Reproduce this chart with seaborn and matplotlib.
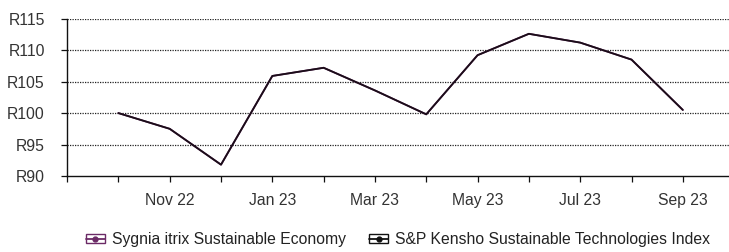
import matplotlib
matplotlib.use("Agg")
import matplotlib.pyplot as plt
from matplotlib.patches import Rectangle
from matplotlib.lines import Line2D
from matplotlib.legend_handler import HandlerTuple
import seaborn as sns
import pandas as pd

months = ["Oct 22", "Nov 22", "Dec 22", "Jan 23", "Feb 23", "Mar 23",
          "Apr 23", "May 23", "Jun 23", "Jul 23", "Aug 23", "Sep 23"]
sygnia = [100.0, 97.5, 91.8, 105.9, 107.2, 103.6, 99.8, 109.2, 112.6, 111.2, 108.5, 100.5]
kensho = [100.0, 97.5, 91.8, 105.9, 107.2, 103.6, 99.8, 109.2, 112.6, 111.2, 108.5, 100.5]
series_names = ["Sygnia itrix Sustainable Economy", "S&P Kensho Sustainable Technologies Index"]
tick_labels = ["Nov 22", "Jan 23", "Mar 23", "May 23", "Jul 23", "Sep 23"]
y_ticks = [90, 95, 100, 105, 110, 115]

sns.set_theme(style="white")
plt.rcParams["font.family"] = ["Liberation Sans", "DejaVu Sans"]

df = pd.DataFrame({
    "idx": list(range(len(months))) * 2,
    "value": sygnia + kensho,
    "series": [series_names[0]] * len(months) + [series_names[1]] * len(months),
})

colors = ["#6b2a66", "#1a0d18"]
FS = 11.3

fig = plt.figure(figsize=(7.29, 2.52), dpi=100)
ax = fig.add_axes([0.092, 0.3016, 0.908, 0.6242])

sns.lineplot(data=df, x="idx", y="value", hue="series", palette=colors,
             linewidth=1.3, ax=ax, legend=False)

ax.set_xlim(-1, 11.9)
ax.set_ylim(90, 115)
ax.set_yticks(y_ticks)
ax.set_yticklabels([f"R{v}" for v in y_ticks])
ax.set_xticks(list(range(-1, 12)))
lab = []
for i in range(-1, 12):
    m = months[i] if i >= 0 else ""
    lab.append(m if m in tick_labels else "")
ax.set_xticklabels(lab)
ax.set_xlabel("")
ax.set_ylabel("")

for s in ["top", "right"]:
    ax.spines[s].set_visible(False)
for s in ["left", "bottom"]:
    ax.spines[s].set_color("#111111")
    ax.spines[s].set_linewidth(1.0)

ax.tick_params(axis="both", which="major", direction="out", length=4, width=0.9,
               color="#111111", labelcolor="#333333", labelsize=FS)
ax.tick_params(axis="y", pad=12)
ax.tick_params(axis="x", pad=8.5)
ax.tick_params(axis="both", left=True, bottom=True)

for v in y_ticks[1:]:
    ax.axhline(v, color="#222222", linestyle=(0, (1, 1)), linewidth=0.9, zorder=0)

def make_handle(c):
    box = Rectangle((0, 0), 1, 1, facecolor="white", edgecolor=c, linewidth=1.0)
    ln = Line2D([], [], color=c, linewidth=1.3, marker="o", markersize=3.5,
                markerfacecolor=c, markeredgecolor=c)
    return (box, ln)

handles = [make_handle(colors[0]), make_handle("#111111")]
leg = fig.legend(handles, series_names, loc="center", bbox_to_anchor=(0.546, 0.05),
                 ncol=2, frameon=False, fontsize=FS, handlelength=1.2,
                 handleheight=0.45, handletextpad=0.45, columnspacing=1.5,
                 handler_map={tuple: HandlerTuple(ndivide=1, pad=0)})
for t in leg.get_texts():
    t.set_color("#222222")

fig.savefig("out.png", dpi=100)
